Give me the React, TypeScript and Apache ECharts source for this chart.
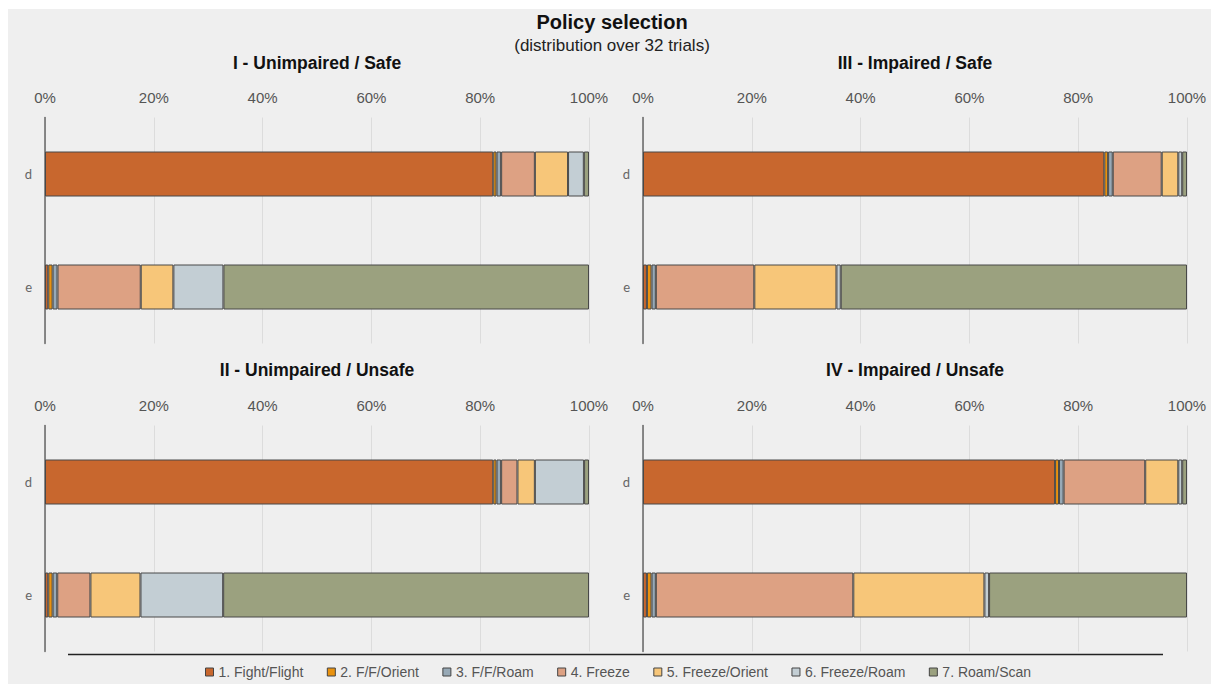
import React, { useEffect, useRef } from "react";
import * as echarts from "echarts";

const categories = ["d", "e"];
const policies = [
  "1. Fight/Flight",
  "2. F/F/Orient",
  "3. F/F/Roam",
  "4. Freeze",
  "5. Freeze/Orient",
  "6. Freeze/Roam",
  "7. Roam/Scan",
];
const colors = ["#c8672e", "#e9920f", "#97a9b6", "#dda183", "#f7c679", "#c3ced4", "#9ba17f"];
const xTicks = [0, 20, 40, 60, 80, 100];

// percentages per policy, for rows d and e
const panelI_d = [82.4, 0.6, 0.85, 6.2, 6.1, 2.9, 0.95];
const panelI_e = [0.6, 0.8, 0.9, 15.3, 6.0, 9.2, 67.2];
const panelII_d = [82.4, 0.6, 0.85, 3.0, 3.2, 9.05, 0.9];
const panelII_e = [0.6, 0.8, 0.85, 6.1, 9.2, 15.2, 67.25];
const panelIII_d = [84.8, 0.7, 0.85, 9.0, 3.05, 0.72, 0.88];
const panelIII_e = [0.72, 0.85, 0.79, 18.1, 15.1, 0.79, 63.65];
const panelIV_d = [75.75, 0.72, 0.85, 15.0, 6.08, 0.72, 0.88];
const panelIV_e = [0.72, 0.85, 0.79, 36.3, 24.1, 0.86, 36.38];

const panelTitles = [
  "I - Unimpaired / Safe",
  "III - Impaired / Safe",
  "II - Unimpaired / Unsafe",
  "IV - Impaired / Unsafe",
];
const panels = [
  [panelI_d, panelI_e],
  [panelIII_d, panelIII_e],
  [panelII_d, panelII_e],
  [panelIV_d, panelIV_e],
];

const W = 1211;
const H = 684;
const FONT = "'Liberation Sans', Arial, Helvetica, sans-serif";

export default function App() {
  const ref = useRef<HTMLDivElement>(null);
  useEffect(() => {
    if (!ref.current) return;
    const chart = echarts.init(ref.current, null, { renderer: "svg" });
    const gridPos = [
      { left: 45, top: 117.5 },
      { left: 643, top: 117.5 },
      { left: 45, top: 425.5 },
      { left: 643, top: 425.5 },
    ];
    const grids = gridPos.map((g) => ({
      left: g.left,
      top: g.top,
      width: 544,
      height: 226,
      containLabel: false,
    }));
    const xAxes = gridPos.map((_, i) => ({
      type: "value",
      gridIndex: i,
      position: "top",
      min: xTicks[0],
      max: xTicks[xTicks.length - 1],
      interval: xTicks[1] - xTicks[0],
      axisLine: { show: false },
      axisTick: { show: false },
      splitLine: { show: true, lineStyle: { color: "#dcdcdc", width: 1 } },
      axisLabel: {
        formatter: "{value}%",
        color: "#555",
        fontSize: 15,
        fontFamily: FONT,
        margin: 13,
      },
    }));
    const yAxes = gridPos.map((_, i) => ({
      type: "category",
      gridIndex: i,
      data: categories,
      inverse: true,
      axisLine: { show: true, lineStyle: { color: "#666", width: 1.5 } },
      axisTick: { show: false },
      axisLabel: { color: "#666", fontSize: 13, fontFamily: "Lato, 'DejaVu Sans', sans-serif", margin: 13 },
      splitLine: { show: false },
    }));
    const series: any[] = [];
    panels.forEach((p, gi) => {
      policies.forEach((name, j) => {
        series.push({
          type: "bar",
          name,
          xAxisIndex: gi,
          yAxisIndex: gi,
          stack: "s" + gi,
          barWidth: 45,
          data: [p[0][j], p[1][j]],
          itemStyle: { color: colors[j], borderColor: "#484848", borderWidth: 1 },
          emphasis: { disabled: true },
        });
      });
    });
    const centers = [317, 915];
    const graphic: any[] = [
      { type: "rect", z: -10, shape: { x: 8, y: 9, width: W - 8, height: H - 9 }, style: { fill: "#efefef" }, silent: true },
      {
        type: "text",
        x: 612,
        y: 22,
        style: { text: "Policy selection", font: `bold 20px ${FONT}`, fill: "#111", textAlign: "center", textVerticalAlign: "middle" },
      },
      {
        type: "text",
        x: 612,
        y: 45,
        style: { text: "(distribution over 32 trials)", font: `17px ${FONT}`, fill: "#222", textAlign: "center", textVerticalAlign: "middle" },
      },
      {
        type: "line",
        shape: { x1: 68, y1: 654.5, x2: 1163, y2: 654.5 },
        style: { stroke: "#222", lineWidth: 1.5 },
      },
    ];
    panelTitles.forEach((t, i) => {
      graphic.push({
        type: "text",
        x: centers[i % 2],
        y: i < 2 ? 63 : 370,
        style: { text: t, font: `bold 17.5px ${FONT}`, fill: "#111", textAlign: "center", textVerticalAlign: "middle" },
      });
    });
    chart.setOption({
      animation: false,
      backgroundColor: "#ffffff",
      grid: grids,
      xAxis: xAxes,
      yAxis: yAxes,
      series,
      graphic,
      legend: {
        data: policies,
        left: 200,
        top: 660,
        itemWidth: 8,
        itemHeight: 8,
        itemGap: 23.5,
        icon: "rect",
        itemStyle: { borderColor: "#444", borderWidth: 1 },
        textStyle: { color: "#555", fontSize: 14, fontFamily: FONT },
        selectedMode: false,
      },
    });
    return () => chart.dispose();
  }, []);
  return <div ref={ref} style={{ position: "fixed", left: 0, top: 0, width: W, height: H }} />;
}
